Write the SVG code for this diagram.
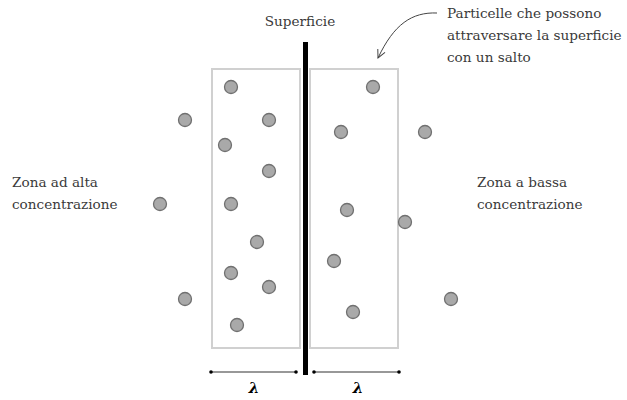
<svg xmlns="http://www.w3.org/2000/svg" width="627" height="400" viewBox="0 0 627 400">
<defs>
<style>
text{font-family:"DejaVu Serif","Liberation Serif",serif;font-size:13.6px;fill:#3a3a3a}
.box{fill:none;stroke:#d0d0d0;stroke-width:2}
.p{fill:#a9a9a9;stroke:#707070;stroke-width:1.3}
.dim{stroke:#333;stroke-width:1.2;fill:none}
.lam{font-weight:bold;font-style:italic;font-size:15px;fill:#000}
</style>
<marker id="ah" viewBox="0 0 10 10" refX="9" refY="5" markerWidth="10" markerHeight="10" orient="auto" markerUnits="userSpaceOnUse">
<path d="M1 1 L9 5 L1 9" fill="none" stroke="#444" stroke-width="1"/>
</marker>
</defs>
<rect width="627" height="400" fill="#fff"/>
<g id="left-zone">
<rect class="box" x="212" y="69" width="88" height="279"/>
</g>
<g id="right-zone">
<rect class="box" x="310" y="69" width="88" height="279"/>
</g>
<g id="surface">
<rect x="303" y="42" width="5" height="333" fill="#000"/>
<text x="300" y="26" text-anchor="middle">Superficie</text>
</g>
<g id="particles">
<circle class="p" cx="231" cy="87" r="6.5"/>
<circle class="p" cx="269" cy="120" r="6.5"/>
<circle class="p" cx="225" cy="145" r="6.5"/>
<circle class="p" cx="269" cy="171" r="6.5"/>
<circle class="p" cx="231" cy="204" r="6.5"/>
<circle class="p" cx="257" cy="242" r="6.5"/>
<circle class="p" cx="231" cy="273" r="6.5"/>
<circle class="p" cx="269" cy="287" r="6.5"/>
<circle class="p" cx="237" cy="325" r="6.5"/>
<circle class="p" cx="185" cy="120" r="6.5"/>
<circle class="p" cx="160" cy="204" r="6.5"/>
<circle class="p" cx="185" cy="299" r="6.5"/>
<circle class="p" cx="373" cy="87" r="6.5"/>
<circle class="p" cx="341" cy="132" r="6.5"/>
<circle class="p" cx="347" cy="210" r="6.5"/>
<circle class="p" cx="405" cy="222" r="6.5"/>
<circle class="p" cx="334" cy="261" r="6.5"/>
<circle class="p" cx="353" cy="312" r="6.5"/>
<circle class="p" cx="425" cy="132" r="6.5"/>
<circle class="p" cx="451" cy="299" r="6.5"/>
</g>
<g id="label-high">
<text x="12" y="187">Zona ad alta</text>
<text x="12" y="209">concentrazione</text>
</g>
<g id="label-low">
<text x="477" y="187">Zona a bassa</text>
<text x="477" y="209">concentrazione</text>
</g>
<g id="label-particles">
<text x="447" y="18">Particelle che possono</text>
<text x="447" y="40">attraversare la superficie</text>
<text x="447" y="62">con un salto</text>
</g>
<g id="connectors">
<path d="M437 13 C412 12 394 24 378 58" fill="none" stroke="#444" stroke-width="1" marker-end="url(#ah)"/>
<line class="dim" x1="211" y1="372" x2="296" y2="372"/>
<line class="dim" x1="314" y1="372" x2="399" y2="372"/>
<circle cx="211" cy="372" r="1.8" fill="#000"/>
<circle cx="296" cy="372" r="1.8" fill="#000"/>
<circle cx="314" cy="372" r="1.8" fill="#000"/>
<circle cx="399" cy="372" r="1.8" fill="#000"/>
</g>
<g id="lambda">
<text class="lam" x="254" y="393" text-anchor="middle">λ</text>
<text class="lam" x="358" y="393" text-anchor="middle">λ</text>
</g>
</svg>
